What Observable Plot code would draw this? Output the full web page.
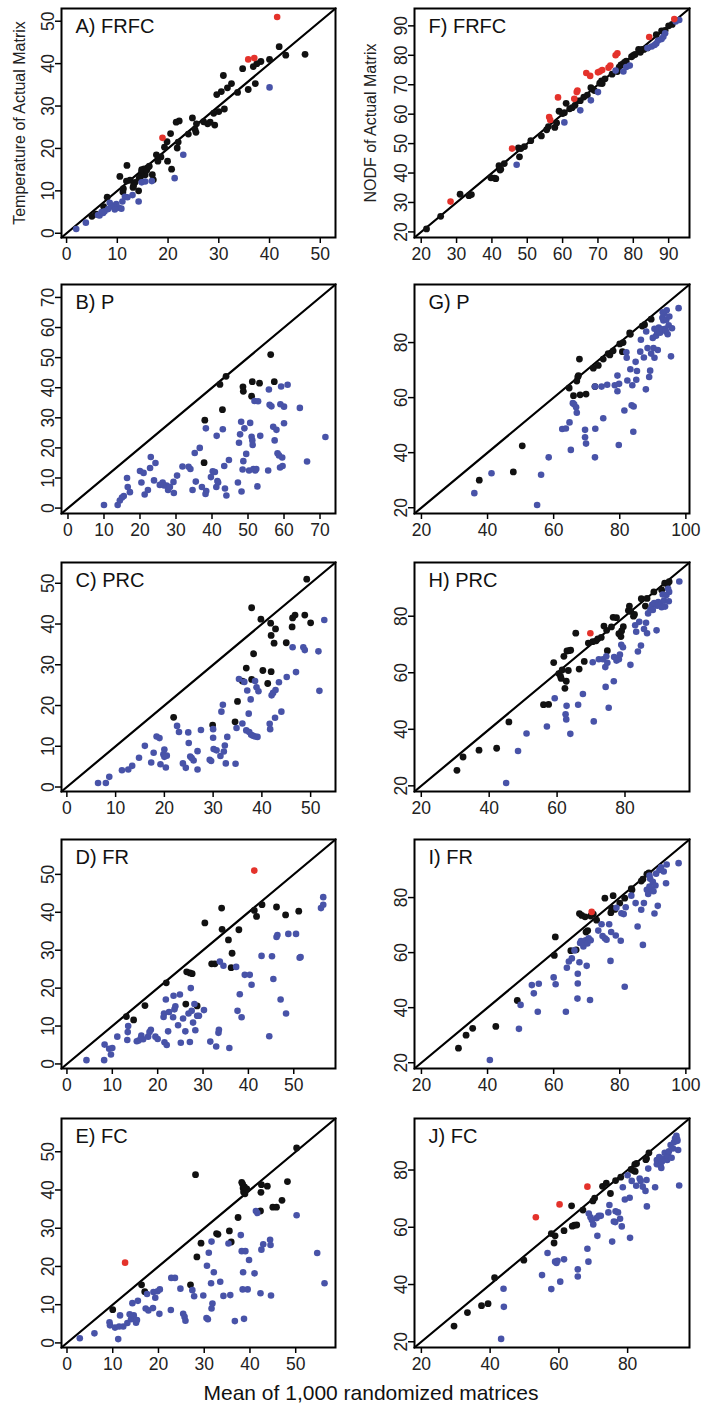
<!DOCTYPE html>
<html><head><meta charset="utf-8">
<script src="https://cdn.jsdelivr.net/npm/d3@7"></script>
<script src="https://cdn.jsdelivr.net/npm/@observablehq/plot@0.6"></script>
<style>
html,body{margin:0;padding:0;background:#fff;}
#fig{position:relative;width:704px;height:1406px;font-family:"Liberation Sans",Arial,sans-serif;color:#111;}
.panel{position:absolute;}
#xtitle{position:absolute;left:0;width:742px;text-align:center;font-size:21px;line-height:21px;}
</style></head><body><div id="fig"></div>
<script>
// ---------- Data (x = mean of randomized matrices, y = actual matrix) ----------
const A_red = [[41.5,51],[35.8,41],[37,41.3],[18.9,22.5]];
const A_blue = [[40,34.4],[23,18.5],[21.3,13],[14.2,7.5],[13,9],[16.8,12.3],[15.5,12.2],[11.5,8.6],[11,7.5],[10.3,6],[9.8,6.9],[9.2,6.5],[8.8,6.3],[8.5,7.2],[8.2,5.7],[7.5,5.2],[6.9,5],[6.5,4.2],[6.2,4.3],[3.8,2.5],[1.9,1],[10.8,5.8],[9.5,5.6],[12,8.5],[14.8,12],[7.2,4.8]];
const A_black = [[47,42.2],[43.2,42],[41.9,44],[40,41],[38.3,40.5],[37.5,40],[37.2,35.3],[36.8,39.3],[35.8,33.9],[34.7,38.8],[33.7,33.2],[32.5,35.3],[31.7,34.3],[30.9,37.2],[31.1,29.3],[30.5,33.4],[29.6,32.7],[30,28.7],[29.2,25.5],[29,28.3],[28.3,26.2],[27.8,25.8],[25.6,25.8],[25.5,23.8],[25.3,24.5],[24.8,27.2],[24,23.4],[22.2,26.5],[21.6,26.2],[21.8,20.1],[20.5,23.5],[20.7,15.1],[19.8,21.6],[19.9,17],[19.3,20.3],[18.6,18],[18,17],[17.7,18.5],[17.1,12.6],[16.9,13.8],[16,15.5],[15.3,15.2],[15.5,13.8],[14.8,14.5],[14.6,13.4],[14.3,13],[14.2,10],[14.8,15],[13.5,12],[13.2,11.2],[13.1,10.8],[12.5,12.5],[11.9,16],[11.8,12.3],[11.2,10.5],[11.1,9.7],[10.5,13.4],[8,8.5],[7.3,6.3],[5.8,4.5],[5,4],[15.8,14.9],[16.3,15.8],[22,21.5],[27,26.3]];

const F_red = [[28.3,30.3],[45.7,48.3],[56.2,59],[56.5,58],[58.7,65.7],[63.3,65.2],[64,67.5],[64.2,68],[66.7,74],[67.8,73],[70,74.2],[70.5,74.5],[71.2,75],[73,75.8],[73.5,76.5],[75,80],[75.5,80.7],[84.5,86.2],[91.6,92.3]];
const F_blue = [[47,42.8],[60.5,57.2],[65,61.3],[68,64.7],[70,67.5],[75,74.8],[77.2,74.5],[78,76],[79,76.5],[85.2,83],[86.5,84],[87,85],[88,85.5],[88.5,86.3],[89,87.5],[86,83.5],[92,91.5],[93,92],[84,82.5]];
const F_black = [[21.5,21],[25.5,25.3],[31,32.8],[33.5,32.3],[34.2,32.7],[39.7,38.4],[40.7,38.3],[41.1,38.1],[42,42.5],[42.3,41],[42.5,41.3],[43.5,43.2],[47.5,48.5],[48.2,48.3],[47.8,45.5],[49.2,49],[51,51],[54,52.6],[55.5,54.7],[56,55.8],[57.8,55.5],[58.3,57],[59,61],[60.5,60.5],[61,63.7],[62,61.8],[62.7,62.2],[63.5,63],[64,64.5],[65,64.6],[66,65.8],[67,66.5],[68,69],[68.5,68.5],[69,68],[70.5,70.5],[71,71.3],[71.2,70.4],[72,72],[74,73.6],[75.5,74.5],[76.5,76.7],[77,77],[77.5,77.6],[78,78],[79.5,79.5],[80,80],[81.5,82],[82,81],[82.5,82],[83,82],[84,82.5],[86.5,87],[88,88.3],[89,88.5],[90,90],[91,90.5],[76,76],[80.5,80.3],[60,60.2]];

const B_red = [];
const B_black = [[56.3,51],[57.3,42],[53.2,41.5],[51.2,42],[51,37.2],[48.6,40.3],[48.7,38.8],[43.9,43.8],[42.2,41.1],[42.9,32.7],[38,29.2],[37.8,15.1]];
const B_blue = [[10,1],[13.8,1],[14.4,2.5],[15,3.5],[15.5,4],[16.4,10],[16.6,7],[17.2,5.3],[20,12.3],[20.4,8.5],[21,11.7],[21.3,4.5],[22.2,6],[22.8,13.3],[23,17],[23.9,9.2],[24.3,15],[25.5,7.7],[26.3,8.5],[26.7,7.5],[27.4,7.5],[27.8,6],[28.3,7],[29.3,8.7],[29.4,5],[30.3,10.8],[31.8,13.8],[33.5,13.7],[34,13],[34.6,6],[35.2,18.3],[35.5,8.8],[36.6,20],[37.2,7],[38.3,26.5],[38.4,5.7],[38.2,4.7],[39.7,10.3],[40.2,12.2],[40.8,12],[41.2,7],[41.3,24],[41.5,9],[41.7,8.5],[43,26.2],[43.4,14],[43.6,6.5],[44,4.2],[44.7,16],[47.2,8.5],[47.5,21.7],[47.8,24.5],[48.1,28.7],[48.2,5.5],[48.5,12.8],[48.7,15.6],[49,26.5],[49.5,18],[50.3,12.5],[50.6,28.3],[51,23.7],[51.2,22.5],[51.3,21],[51.5,13],[51.8,35.6],[52,12.5],[52.3,13],[52.8,35.5],[52.6,7.2],[53.4,24],[55.6,12.5],[55.8,39.4],[56,34.3],[56.5,33.8],[57,27],[57.4,22.5],[57.9,26],[58.2,18.2],[58.6,17.5],[58.9,13.5],[59,34.5],[59.2,40.4],[59.5,16.8],[59.6,14],[60,33.7],[60,28.2],[61,41],[64.4,33.3],[66.4,15.5],[71.5,23.6]];

const G_red = [];
const G_black = [[37.5,30],[47.8,33],[50.5,42.5],[64.7,63.5],[66,60.7],[67,66],[67.3,67.5],[67.5,68],[67.8,74],[68,61],[69.8,61.3],[72,70.7],[72.5,64],[73.5,71.7],[76.5,76],[77,75.5],[80,79.5],[80.8,76.7],[81,80],[83,83.5],[83.2,83],[86.8,86],[87.5,86.5],[89.5,88.5],[75,74],[78,77]];
const G_blue = [[36,25.3],[41.2,32.5],[55,21],[56.2,32],[58.5,38.3],[62.6,48.6],[63.7,48.8],[64.8,51],[65.2,41],[65.8,58],[66.2,57.6],[66.8,56.5],[67,54.5],[69.5,48.3],[69.5,45.6],[69.8,43.3],[72.5,38.3],[72.6,48.7],[72.5,64],[74.5,64],[75,52.5],[76.2,64.7],[78.5,64.5],[79.3,68],[79.3,62.3],[79.7,42.8],[79.8,65],[81.4,55.3],[82,76.5],[82.1,74.5],[82.3,66.2],[83.2,70.3],[83.6,57.2],[83.8,64.5],[84.2,56.8],[84.1,47.6],[84.8,73],[85.2,69.7],[85,66.5],[86.2,76.7],[86.4,81],[87.3,74.6],[87.9,63],[88,84],[88.4,78],[88.9,67.5],[89.2,69.8],[89.5,76],[90,81.7],[90.2,78],[90.5,85],[90.5,74.5],[91,82.5],[91.3,84],[91.5,77.3],[91.8,85.5],[92.2,83.6],[92.8,84.8],[92.9,89],[93.2,88],[93.4,90.5],[93.8,85],[94.1,88.3],[94.2,91.7],[94.5,83],[94.8,86.3],[95,89.5],[95.5,75],[95.8,85.2],[97.8,92.5],[93,91],[94,84]];

const C_red = [];
const C_black = [[49.2,51],[37.9,44],[39.8,41.2],[41.8,40.2],[42.8,38.8],[41.9,37.2],[42.5,35.3],[46.3,41.5],[46.8,42.2],[48.8,42.2],[50,40.3],[46.2,39.3],[45,35.4],[38.3,32.7],[36.8,29.2],[40.2,28.6],[41.9,28.3],[37.9,26.4],[36,26],[41.2,25.4],[35,21],[34.5,16],[29.9,15.2],[21.9,17.1]];
const C_blue = [[6.4,1],[8,1],[8.7,2.5],[11.3,4.1],[12.6,4.3],[13.4,5.2],[14.8,7.2],[16,10.1],[17.3,6],[17.8,8.4],[18.4,12.4],[19,12],[19.2,5.6],[19.8,8],[20,9.2],[20.3,4.8],[20.5,7.7],[20,7.4],[22.6,15],[23,13.5],[23.8,5.8],[24.4,4.7],[24.9,13.4],[25,10.8],[25.3,7.5],[25.6,7.1],[26,6.5],[26.8,8.8],[26.8,4.3],[27.5,14],[29.3,6.7],[29.6,6.4],[30,14.2],[30,12.1],[30.1,9.3],[30.7,9],[31.5,7.6],[31.7,18.5],[32,20.2],[32.2,8.7],[32.4,10.2],[32.6,5.8],[32.9,12.3],[34.6,5.7],[35.3,26.5],[36,15.6],[36.4,25.8],[36.8,13.9],[37,23.7],[37.3,18],[37.4,13.5],[37.7,21.5],[37.8,12.8],[38.2,12.6],[38.6,12.4],[38.6,26],[38.9,24.5],[39.1,12.3],[39.3,23.5],[41.6,15.5],[41.7,14.2],[42,22.5],[42.3,23.1],[42.7,17],[42.8,23.8],[43.5,25.7],[44,18.5],[45.1,27],[46.3,34.3],[47,28.2],[48.5,34.3],[48.8,33.6],[51.6,33.3],[51.8,23.6],[52.8,41],[34.8,14.5]];

const H_red = [[69.8,74]];
const H_black = [[30.5,25.5],[32.3,30.2],[37,32.6],[42.2,33.3],[45.8,42.6],[56,48.7],[57.5,48.8],[59,63.6],[60.5,59.7],[61,58.8],[61.2,58],[61.5,61],[62,65.8],[62.3,54.5],[62.7,57],[62.9,67.7],[63.3,60.8],[63.5,67.8],[64,68],[65.5,74],[66.5,61.3],[68,64],[69.2,70.5],[70.5,71],[71.5,71.3],[73,72.5],[73.8,76.5],[74.8,67.8],[74.6,75],[76,76.2],[76.5,79.6],[77.5,79.5],[78.2,73.8],[78.8,72.8],[79,74.8],[79.5,76.3],[81,82],[81.3,83.6],[81.7,81.7],[82.5,80],[84.8,86.2],[86,83.6],[86.5,86.3],[88.5,88.6],[90.8,89.3],[91.7,91.7],[92.5,91.4],[93,92.2],[82.8,80.6],[72,72]];
const H_blue = [[45,21],[48.5,32.3],[51,38.5],[57,41],[59.3,51],[62.5,45.3],[62.8,48.3],[62.7,43.5],[63.9,38.4],[66.2,48.7],[67.6,52.5],[70.8,42.8],[70.5,63.7],[72.3,64.8],[73.5,64.8],[74.2,62],[74.3,55],[74.5,65.8],[74.8,63.5],[75.2,47.6],[76.7,57],[76.8,65.6],[77.5,64.3],[78.2,64.8],[78.5,66.4],[78.9,69.9],[79.4,69],[81.6,62.8],[83,76.8],[83.3,74.5],[83.8,67.5],[84.2,78],[84.7,69.6],[85.6,75.5],[86.2,77.7],[86.5,74],[86.8,81],[87.5,82.4],[88,84],[88.6,84.7],[89.3,75],[89.5,83.7],[89.8,85],[90.4,84],[90.8,83.2],[91.1,87.7],[91.5,85.5],[91.8,83.4],[92.2,87.5],[92.7,89.7],[92.9,85.3],[93,88.6],[96,92.3],[88.2,82.2]];

const D_red = [[41.3,51]];
const D_black = [[13.1,12.5],[14.7,11.6],[17.2,15.4],[21.9,21.4],[26.2,15.8],[26.4,24.3],[27.1,24],[27.6,23.8],[28.7,15.3],[30.4,37.2],[31.9,26.4],[32.6,26.4],[34.1,41.1],[34.2,35.5],[35.6,32.7],[36.4,29.2],[36.2,25.4],[37.9,35.4],[41.3,40.5],[41.8,38.9],[43,42],[46.2,41.4],[48.2,39.3],[51.1,40.3]];
const D_blue = [[4.3,1],[8.3,5.1],[8.2,1],[9.3,4],[9.7,2.5],[10,4.2],[11.1,7.2],[13.3,6.3],[13.4,8.4],[13.5,10],[15.4,6],[15.8,6.2],[16.3,6.8],[16.4,7.5],[16.8,6.5],[17.9,7.2],[18.5,9],[18.2,8.4],[19.5,7.2],[20,6.6],[21.3,12.4],[21.4,13.3],[21.5,5.7],[21.8,17],[22,5],[22.3,8.6],[22.5,13.7],[23.4,12.3],[23.7,14.4],[23.5,18],[23.9,15.2],[24.5,10.2],[24.9,18.3],[25.1,5.6],[25.6,12],[26.1,8.6],[26.8,13.3],[27.1,5.8],[27.3,20],[27.5,14],[27.8,10.9],[28.1,15.8],[28.3,8.9],[28.7,12.7],[29.1,12.7],[30.2,14.2],[31.6,5.9],[32.9,4.6],[33.4,8.2],[33.5,9],[33.7,27],[34.5,25.9],[35.8,4.2],[37.3,25.6],[37.6,14],[38.1,18.4],[38.5,12.3],[39.2,23.5],[40.3,23.5],[40.7,20.9],[42.9,28.5],[44.6,7.3],[45.2,28.4],[45.5,22.4],[46.2,33.5],[46.4,34],[47.1,17],[48.3,13.3],[48.8,34.3],[50.5,34.3],[51.3,28],[51.5,28.2],[56,41.1],[56.5,42],[56.5,44]];

const I_red = [[71.5,74.8]];
const I_black = [[31.2,25.3],[33.5,30],[35.5,32.5],[42.5,33.2],[49,42.6],[60.2,59],[60.5,65.7],[65.2,60.7],[66.8,61],[67.8,74.2],[68.5,73.5],[69.5,73],[69.8,67.5],[70.3,68],[72,74],[73,71.8],[75.5,79.8],[77.3,74.5],[77.5,76.2],[78,80.7],[78.5,75.7],[81.5,79.8],[83.5,83.2],[83.7,82.8],[86.5,86],[87,86.7],[88.2,88.5],[88.8,89],[71.2,73.3],[80,78]];
const I_blue = [[40.7,21],[49.5,32.3],[50,41],[53.4,48.2],[54,45.2],[55.2,38.5],[55.5,48.7],[60,51],[60.6,48.5],[63.7,38.5],[64,54.5],[64.6,56.8],[65.5,57.9],[66.3,60.8],[67.2,43.3],[67.3,48.8],[67.3,52.3],[67.8,56.5],[68,63.5],[68.3,64.2],[69,62.2],[69.4,63.6],[69.7,64.5],[70,55.2],[70.2,63.3],[70.6,65.2],[71,42.8],[71.2,64.5],[73.5,68],[74.5,70.3],[74.8,66],[75.5,65.2],[76,64.7],[76.8,70.3],[77.2,57],[77.4,67.5],[78.8,66.2],[79,76.3],[80.3,64.3],[80.5,74.3],[81.2,74],[81.5,47.6],[81.8,76.5],[83.5,80.7],[84.8,78],[85.4,69.5],[86.5,75.6],[87,62.8],[87.3,78],[88.2,82.8],[88.6,81.3],[89,84],[89.2,86.8],[89.6,83],[90,85.7],[90.2,82.3],[90.5,74.2],[90.8,84.4],[91,88.7],[91.5,77],[92,90],[92.5,91],[93.3,89.5],[94,85.2],[94.2,92],[97.8,92.5],[89,88]];

const E_red = [[12.7,21]];
const E_black = [[10,8.7],[16.3,15.2],[17,13.4],[27,15.2],[28.1,44],[28.4,22.5],[29.3,26.1],[32.7,28.6],[33,28.4],[35.5,29.3],[35.9,26.4],[37.4,32.8],[38.2,42],[38.4,41.5],[38.5,40.5],[38.6,39.5],[38.9,39],[39.3,40.3],[42.3,34.5],[42.4,39.4],[42.5,41.4],[43.8,41],[45,35.5],[45.8,35.5],[47,37.3],[48.2,42.2],[50.2,51],[38.8,40.8]];
const E_blue = [[2.8,1.2],[6,2.5],[9.3,5.4],[9.4,4.6],[10.5,4],[11.2,1],[11.4,4.3],[11.6,7.2],[12.3,4.3],[13.2,5.2],[13.7,7.5],[14,6.2],[14.3,10.4],[14.6,7.2],[15.1,5.3],[15.3,6],[15.5,11],[17.2,9],[17.5,12.8],[17.8,8.5],[18.8,9.1],[18.9,13.3],[19.3,11.8],[19.8,13.5],[20.2,7.6],[20.3,14],[22.7,8.6],[22.8,17],[23.6,17],[24.8,14.2],[25.4,7.6],[25.7,6.8],[25.9,5.8],[27.4,13.8],[27.8,12.2],[29.8,12.4],[30.5,6.5],[30.6,20.2],[30.8,6.2],[31,23.6],[31.5,15.6],[31.6,26.5],[31.6,9],[31.8,10.3],[32.1,18.5],[33.5,16],[34.2,12.3],[35.3,26],[35.7,12.5],[36.7,5.7],[38,28.2],[38.2,24],[38.4,14],[38.5,18.5],[38.7,6.3],[39,24],[39.5,14],[39.8,21.7],[41,18.2],[41.3,34.5],[41.6,34],[42.3,13],[42.5,24.4],[42.9,25.8],[44.4,27],[44.5,25.6],[44.6,12.4],[50.2,33.4],[54.7,23.5],[56.3,15.6]];

const J_red = [[53.3,63.5],[60.2,68],[68.3,74.2]];
const J_black = [[29.5,25.5],[33.4,30.2],[37.5,32.6],[39.4,33.3],[41.3,42.4],[49.8,48.5],[57.8,57.8],[58.6,54.5],[58.9,57],[61.5,58.8],[63.7,67.5],[63.9,60.4],[64.5,60.7],[65.2,60.8],[67,66],[69.9,69.2],[70.4,70.2],[72.7,74.3],[73.8,75.4],[75,71.8],[76.5,76.3],[81.7,79.8],[82.2,79.5],[82.1,82],[82.6,82.3],[85.3,83.6],[85.5,84],[86.2,86],[81,80.2],[78,77.5]];
const J_blue = [[43.2,21],[43.9,38.5],[44,32.2],[55.1,43.3],[56.7,51],[57.8,38.4],[58.9,48],[59.3,47.5],[59.6,48.3],[60.4,41],[61.5,48.8],[65.5,45.3],[65.5,42.8],[68.3,52.5],[68.6,48],[68.7,64.8],[69.2,63.5],[69.6,62.5],[70,61],[71,63.2],[71.2,57],[71.6,64],[72.2,64],[74.4,65.2],[74.7,67.8],[75.5,55],[76,62],[76.4,61.8],[76.5,65.6],[77.2,65.2],[77.8,63],[78.3,60.3],[78.6,74],[79.2,69.7],[80,78.2],[80.6,70.3],[80.7,56.3],[81.2,76.2],[82.5,74.5],[83.5,77],[83.8,76.2],[84.4,74.2],[85.2,72.7],[85.5,76.5],[85.6,67.3],[86,80.5],[88,74],[88.5,83.5],[88.5,82],[89.2,84.5],[89.6,81.5],[89.8,80.7],[90.3,84],[90.8,86],[91.5,83.5],[91.8,85],[92,86.5],[92.5,88.7],[92.8,84.3],[93.2,87.5],[93.5,89.7],[93.8,91],[94.2,92],[94.5,90.2],[94.7,87],[95,74.6],[94.4,90.8],[90,83]];

// Panel titles, axis ranges and tick values
const panelLabels = ["A) FRFC","B) P","C) PRC","D) FR","E) FC","F) FRFC","G) P","H) PRC","I) FR","J) FC"];
const tempTicks = [0,10,20,30,40,50];
const tempTicksB = [0,10,20,30,40,50,60,70];
const nodfTicksF = [20,30,40,50,60,70,80,90];
const nodfTicksX = [20,40,60,80,100];
const nodfTicksY = [20,40,60,80];
const yTitleLeft = "Temperature of Actual Matrix";
const yTitleRight = "NODF of Actual Matrix";
const xTitle = "Mean of 1,000 randomized matrices";

const panels = [
  {label:panelLabels[0], red:A_red, blue:A_blue, black:A_black, domain:[-1,53], xt:tempTicks, yt:tempTicks, col:0, row:0, title:yTitleLeft},
  {label:panelLabels[1], red:B_red, blue:B_blue, black:B_black, domain:[-1.8,74.3], xt:tempTicksB, yt:tempTicksB, col:0, row:1},
  {label:panelLabels[2], red:C_red, blue:C_blue, black:C_black, domain:[-1.1,55.1], xt:tempTicks, yt:tempTicks, col:0, row:2},
  {label:panelLabels[3], red:D_red, blue:D_blue, black:D_black, domain:[-1.2,59.2], xt:tempTicks, yt:tempTicks, col:0, row:3},
  {label:panelLabels[4], red:E_red, blue:E_blue, black:E_black, domain:[-1.2,58.7], xt:tempTicks, yt:tempTicks, col:0, row:4},
  {label:panelLabels[5], red:F_red, blue:F_blue, black:F_black, domain:[18.1,95.9], xt:nodfTicksF, yt:nodfTicksF, col:1, row:0, title:yTitleRight},
  {label:panelLabels[6], red:G_red, blue:G_blue, black:G_black, domain:[17.9,101.1], xt:nodfTicksX, yt:nodfTicksY, col:1, row:1},
  {label:panelLabels[7], red:H_red, blue:H_blue, black:H_black, domain:[18,99], xt:nodfTicksY, yt:nodfTicksY, col:1, row:2},
  {label:panelLabels[8], red:I_red, blue:I_blue, black:I_black, domain:[17.9,101.1], xt:nodfTicksX, yt:nodfTicksY, col:1, row:3},
  {label:panelLabels[9], red:J_red, blue:J_blue, black:J_black, domain:[18,98], xt:nodfTicksY, yt:nodfTicksY, col:1, row:4}
];

// ---------- Layout ----------
const FONT = '"Liberation Sans", Arial, Helvetica, sans-serif';
const rowTops = [0, 276, 554, 831, 1110];
const colLefts = [0, 352];
const BLUE = "#4853a8", RED = "#e4322b", BLACK = "#111111";

const fig = document.getElementById("fig");

for (const p of panels) {
  const [lo, hi] = p.domain;
  const marks = [
    Plot.frame({stroke: "black", strokeWidth: 2}),
    Plot.line([[lo, lo], [hi, hi]], {x: d => d[0], y: d => d[1], stroke: "black", strokeWidth: 2.2}),
    Plot.dot(p.black, {x: d => d[0], y: d => d[1], r: 3.4, fill: BLACK}),
    Plot.dot(p.blue, {x: d => d[0], y: d => d[1], r: 3.3, fill: BLUE}),
    Plot.dot(p.red, {x: d => d[0], y: d => d[1], r: 3.3, fill: RED}),
    Plot.text([p.label], {text: d => d, frameAnchor: "top-left", textAnchor: "start", lineAnchor: "top", dx: 14, dy: 10, fontSize: 20, fill: "#111"}),
    Plot.axisX({ticks: p.xt, tickFormat: d => String(d), tickSize: 6, tickPadding: 4, fontSize: 17.5, stroke: "black", strokeWidth: 1.5, label: null, fill: "#222"}),
    Plot.axisY({ticks: p.yt, tickFormat: d => String(d), tickSize: 6, tickRotate: -90, tickPadding: 2, fontSize: 17.5, stroke: "black", strokeWidth: 1.5, fill: "#222",
      label: p.title ? p.title : null, labelAnchor: "center", labelArrow: "none", labelOffset: p.col === 0 ? 48 : 50})
  ];
  const svg = Plot.plot({
    width: 352, height: 277,
    marginTop: 8, marginBottom: 40,
    marginLeft: p.col === 0 ? 61 : 62,
    marginRight: p.col === 0 ? 17 : 15,
    style: {fontFamily: FONT, background: "white", color: "#111", overflow: "visible"},
    x: {domain: p.domain},
    y: {domain: p.domain},
    marks
  });
  svg.classList.add("panel");
  svg.style.left = colLefts[p.col] + "px";
  svg.style.top = rowTops[p.row] + "px";
  fig.appendChild(svg);
}

const xt = document.createElement("div");
xt.id = "xtitle";
xt.textContent = xTitle;
xt.style.top = "1382px";
fig.appendChild(xt);

// make y-axis titles smaller than tick labels
document.querySelectorAll("svg.panel g[aria-label='y-axis label'] text").forEach(t => t.setAttribute("font-size", "16"));
</script></body></html>
